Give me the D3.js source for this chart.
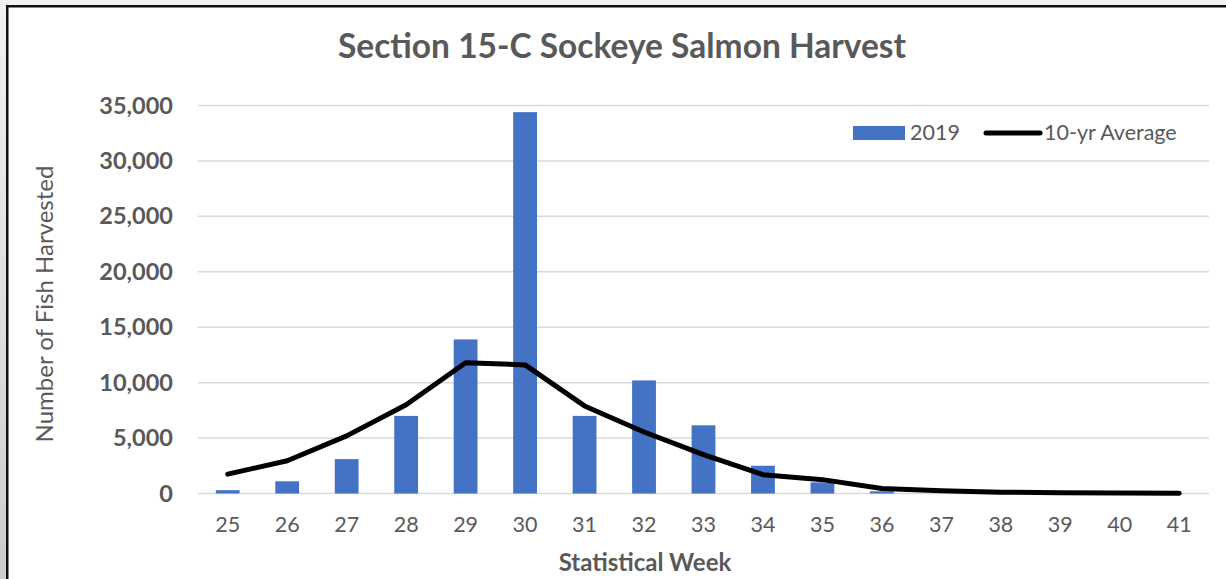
<!DOCTYPE html>
<html>
<head>
<meta charset="utf-8">
<script src="https://cdn.jsdelivr.net/npm/d3@7"></script>
<style>
  body { margin: 0; background: #e6e6e6; }
  svg { display: block; font-family: Lato, "Open Sans", sans-serif; }
</style>
</head>
<body>
<svg id="chart" width="1226" height="579"></svg>
<script>
const weeks = [25, 26, 27, 28, 29, 30, 31, 32, 33, 34, 35, 36, 37, 38, 39, 40, 41]
const harvest2019 = [300, 1100, 3100, 7000, 13900, 34400, 7000, 10200, 6150, 2500, 1000, 200, 0, 0, 0, 0, 0]
const tenYearAvg = [1750, 2950, 5200, 8000, 11800, 11600, 7900, 5550, 3500, 1700, 1250, 450, 250, 120, 60, 40, 20]
const yTicks = [0, 5000, 10000, 15000, 20000, 25000, 30000, 35000]

const svg = d3.select("#chart")

// grey backdrop + chart frame
const bg = svg.append("defs").append("linearGradient").attr("id", "bg")
  .attr("x1", 0).attr("y1", 0).attr("x2", 0).attr("y2", 1)
bg.append("stop").attr("offset", "0%").attr("stop-color", "#f2f2f2")
bg.append("stop").attr("offset", "100%").attr("stop-color", "#cccccc")
svg.append("rect").attr("width", 1226).attr("height", 579).attr("fill", "url(#bg)")
svg.append("rect")
  .attr("x", 7.25).attr("y", 6.25)
  .attr("width", 1240).attr("height", 600)
  .attr("fill", "#fff").attr("stroke", "#111").attr("stroke-width", 2.5)

const plotL = 198, plotR = 1209, plotT = 105.5, plotB = 493.5

const x = d3.scaleBand().domain(weeks).range([plotL, plotR]).paddingInner(0.6).paddingOuter(0.3)
const xc = d3.scaleBand().domain(weeks).range([plotL, plotR])
const y = d3.scaleLinear().domain([0, 35000]).range([plotB, plotT])

// gridlines
svg.append("g")
  .selectAll("line")
  .data(yTicks)
  .enter()
  .append("line")
  .attr("x1", plotL).attr("x2", plotR)
  .attr("y1", d => y(d)).attr("y2", d => y(d))
  .attr("stroke", "#d9d9d9").attr("stroke-width", 1.5)

// y axis labels
const yAxis = svg.append("g")
  .attr("transform", "translate(" + (plotL - 25) + ",0)")
  .call(d3.axisLeft(y).tickValues(yTicks).tickFormat(d3.format(",")).tickSize(0).tickPadding(0))
yAxis.select(".domain").remove()
yAxis.selectAll("text")
  .attr("font-family", "Lato, sans-serif")
  .attr("font-size", 23.5).attr("font-weight", "bold").attr("fill", "#595959")

// x axis labels
const xAxis = svg.append("g")
  .attr("transform", "translate(0," + plotB + ")")
  .call(d3.axisBottom(xc).tickSize(0).tickPadding(23))
xAxis.select(".domain").remove()
xAxis.selectAll("text")
  .attr("font-family", "Lato, sans-serif")
  .attr("font-size", 21.5).attr("fill", "#595959")

// bars
svg.append("g")
  .selectAll("rect")
  .data(weeks)
  .enter()
  .append("rect")
  .attr("x", d => x(d))
  .attr("width", x.bandwidth())
  .attr("y", (d, i) => y(harvest2019[i]))
  .attr("height", (d, i) => y(0) - y(harvest2019[i]))
  .attr("fill", "#4472c4")

// 10-yr average line
const line = d3.line()
  .x(d => xc(d[0]) + xc.bandwidth() / 2)
  .y(d => y(d[1]))
svg.append("path")
  .datum(weeks.map((w, i) => [w, tenYearAvg[i]]))
  .attr("d", line)
  .attr("fill", "none").attr("stroke", "#000").attr("stroke-width", 5)
  .attr("stroke-linejoin", "round").attr("stroke-linecap", "round")

// titles
svg.append("text")
  .attr("x", 622).attr("y", 58)
  .attr("text-anchor", "middle")
  .attr("font-size", 33.5).attr("font-weight", "bold").attr("fill", "#595959")
  .text("Section 15-C Sockeye Salmon Harvest")

svg.append("text")
  .attr("x", 645).attr("y", 571)
  .attr("text-anchor", "middle")
  .attr("font-size", 24).attr("font-weight", "bold").attr("fill", "#595959")
  .text("Statistical Week")

svg.append("text")
  .attr("transform", "translate(53,304) rotate(-90)")
  .attr("text-anchor", "middle")
  .attr("font-size", 24).attr("fill", "#595959")
  .text("Number of Fish Harvested")

// legend
const legend = svg.append("g")
legend.append("rect")
  .attr("x", 853).attr("y", 126).attr("width", 52).attr("height", 14)
  .attr("fill", "#4472c4")
legend.append("text")
  .attr("x", 910).attr("y", 140)
  .attr("font-size", 21.5).attr("fill", "#595959")
  .text("2019")
legend.append("line")
  .attr("x1", 986).attr("x2", 1040).attr("y1", 133).attr("y2", 133)
  .attr("stroke", "#000").attr("stroke-width", 5).attr("stroke-linecap", "round")
legend.append("text")
  .attr("x", 1044).attr("y", 140)
  .attr("font-size", 21.5).attr("fill", "#595959")
  .text("10-yr Average")
</script>
</body>
</html>
